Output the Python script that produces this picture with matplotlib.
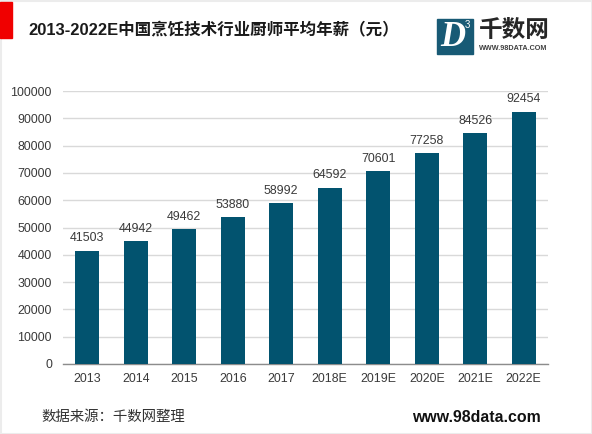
import matplotlib
matplotlib.use('Agg')
import matplotlib.pyplot as plt
from matplotlib.patches import Rectangle

plt.rcParams['font.family'] = ['Liberation Sans', 'Noto Sans CJK SC']

# 年份和厨师平均年薪
years = ['2013', '2014', '2015', '2016', '2017', '2018E', '2019E', '2020E', '2021E', '2022E']
salary = [41503, 44942, 49462, 53880, 58992, 64592, 70601, 77258, 84526, 92454]
yticks = [0, 10000, 20000, 30000, 40000, 50000, 60000, 70000, 80000, 90000, 100000]

W, H = 592, 434
BAR = '#02536f'
TXT = '#3a3a3a'

fig = plt.figure(figsize=(W / 100, H / 100), dpi=100, facecolor='white')

# 主图, 位置按像素换算
left, right, top, bottom = 63, 548, 91, 364
ax = fig.add_axes([left / W, 1 - bottom / H, (right - left) / W, (bottom - top) / H])
ax.bar(years, salary, width=0.49, color=BAR, zorder=3)
ax.set_xlim(-0.5, 9.5)
ax.set_ylim(0, 100000)
ax.set_yticks(yticks)
ax.tick_params(length=0, labelsize=8.9, labelcolor=TXT)
ax.tick_params(axis='x', pad=6.5)
ax.tick_params(axis='y', pad=8)
ax.grid(axis='y', color='#d9d9d9', lw=1, zorder=0)
ax.set_axisbelow(True)
for s in ['top', 'right', 'left']:
    ax.spines[s].set_visible(False)
ax.spines['bottom'].set_color('#8c8c8c')
ax.spines['bottom'].set_linewidth(1)
for i, v in enumerate(salary):
    ax.annotate(str(v), (i, v), xytext=(0, 4.5), textcoords='offset points',
                ha='center', va='bottom', fontsize=8.9, color=TXT, zorder=4)

# 覆盖层: 标题, 红块, logo, 页脚
ov = fig.add_axes([0, 0, 1, 1], facecolor='none')
ov.set_xlim(0, W)
ov.set_ylim(H, 0)
ov.axis('off')
ov.add_patch(Rectangle((0.5, 0.5), W - 1, H - 1, fill=False, ec='#ececec', lw=1.5))
ov.add_patch(Rectangle((0, 2), 11.5, 36, color='#f00000'))
ov.text(28.7, 29.5, '2013-2022E中国烹饪技术行业厨师平均年薪（元）', fontsize=11.9,
        fontweight='bold', color='#1a1a1a', ha='left', va='center')

ov.add_patch(Rectangle((437, 19), 36, 34.5, color='#185a75'))
ov.text(453, 38, 'D', fontsize=25, fontweight='bold', style='italic', color='white',
        family='Liberation Serif', ha='center', va='center')
ov.text(467.5, 24.5, '3', fontsize=7, color='white', ha='center', va='center')
ov.text(479, 30.5, '千数网', fontsize=17, fontweight='bold', color='#262626', ha='left', va='center')
ov.text(479, 48.5, 'WWW.98DATA.COM', fontsize=5.2, fontweight='bold', color='#404040',
        ha='left', va='center')

ov.text(41, 416.5, '数据来源：千数网整理', fontsize=10.4, color='#333333', ha='left', va='center')
ov.text(541, 417, 'www.98data.com', fontsize=11.4, fontweight='bold', color='#111111',
        ha='right', va='center')

fig.savefig('out.png', dpi=100)
